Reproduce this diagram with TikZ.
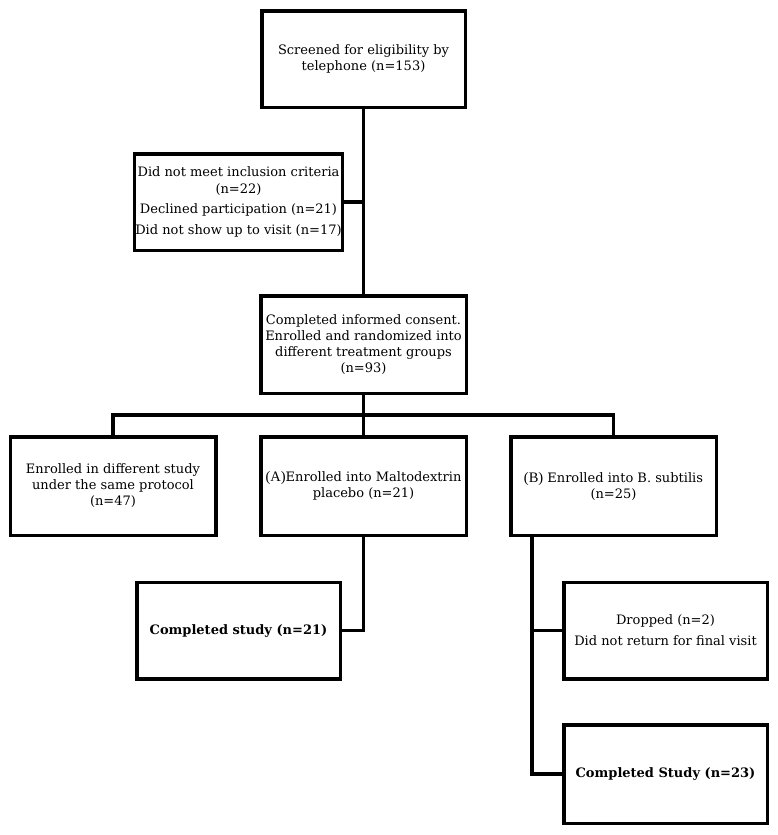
\documentclass[tikz,border=0pt]{standalone}
\usepackage{fontspec}
\setmainfont{DejaVu Serif}
\newfontfamily\tagfont{Liberation Serif}
\usetikzlibrary{positioning}

\begin{document}
\begin{tikzpicture}[
  x=1pt, y=-1pt,
  box/.style={draw, line width=3.5pt, minimum width=203.5pt, minimum height=96.5pt, inner sep=1pt, align=center},
  plain/.style={box, font=\fontsize{13}{16.5}\selectfont},
  group/.style={box, minimum width=205.5pt, minimum height=98.5pt, font=\fontsize{13}{16}\selectfont},
  result/.style={box, font=\fontsize{13}{18}\selectfont},
  link/.style={line width=3.5pt, line cap=rect}
]
\useasboundingbox (0,0) rectangle (778,835);

% ======================================================
% =============== SCREENING ============================
% ======================================================
\node (screen) [plain] at (363.5,59) {Screened for eligibility by\\telephone (n=153)};
\node (excl) [plain] at (238.5,202) {Did not meet inclusion criteria\\(n=22)\\[4pt]Declined participation (n=21)\\[4pt]Did not show up to visit (n=17)};
\node (consent) [group, minimum height=97.5pt] at (363.5,344.5) {Completed informed consent.\\Enrolled and randomized into\\different treatment groups\\(n=93)};

% ======================================================
% =============== GROUPS ===============================
% ======================================================
\node (other) [group] at (113,486) {Enrolled in different study\\under the same protocol\\(n=47)};
\node (malto) [group] at (363.5,486) {{\tagfont\fontsize{14.5}{16}\selectfont(A)}Enrolled into Maltodextrin\\placebo (n=21)};
\node (bsub) [group] at (613.5,486) {{\tagfont\fontsize{14.5}{16}\selectfont(B)} Enrolled into B. subtilis\\(n=25)};

% ======================================================
% =============== OUTCOMES =============================
% ======================================================
\node (doneA) [result] at (238.5,630.5) {\textbf{Completed study (n=21)}};
\node (drop) [result] at (665.5,630.5) {Dropped (n=2)\\[3pt]Did not return for final visit};
\node (doneB) [result, minimum height=98.5pt] at (665.5,774) {\textbf{Completed Study (n=23)}};

% connectors
\coordinate (bus) at (363.5,415);
\coordinate (split) at ([xshift=-81.5pt]bsub.south);
\draw[link] (screen.south) -- (consent.north);
\draw[link] (excl.east) -- (excl.east -| screen.south);
\draw[link] (consent.south) -- (malto.north);
\draw[link] (other.north) |- (bus) -| (bsub.north);
\draw[link] (malto.south) |- (doneA.east);
\draw[link] (split) |- (doneB.west);
\draw[link] (split |- drop.west) -- (drop.west);

\end{tikzpicture}
\end{document}
